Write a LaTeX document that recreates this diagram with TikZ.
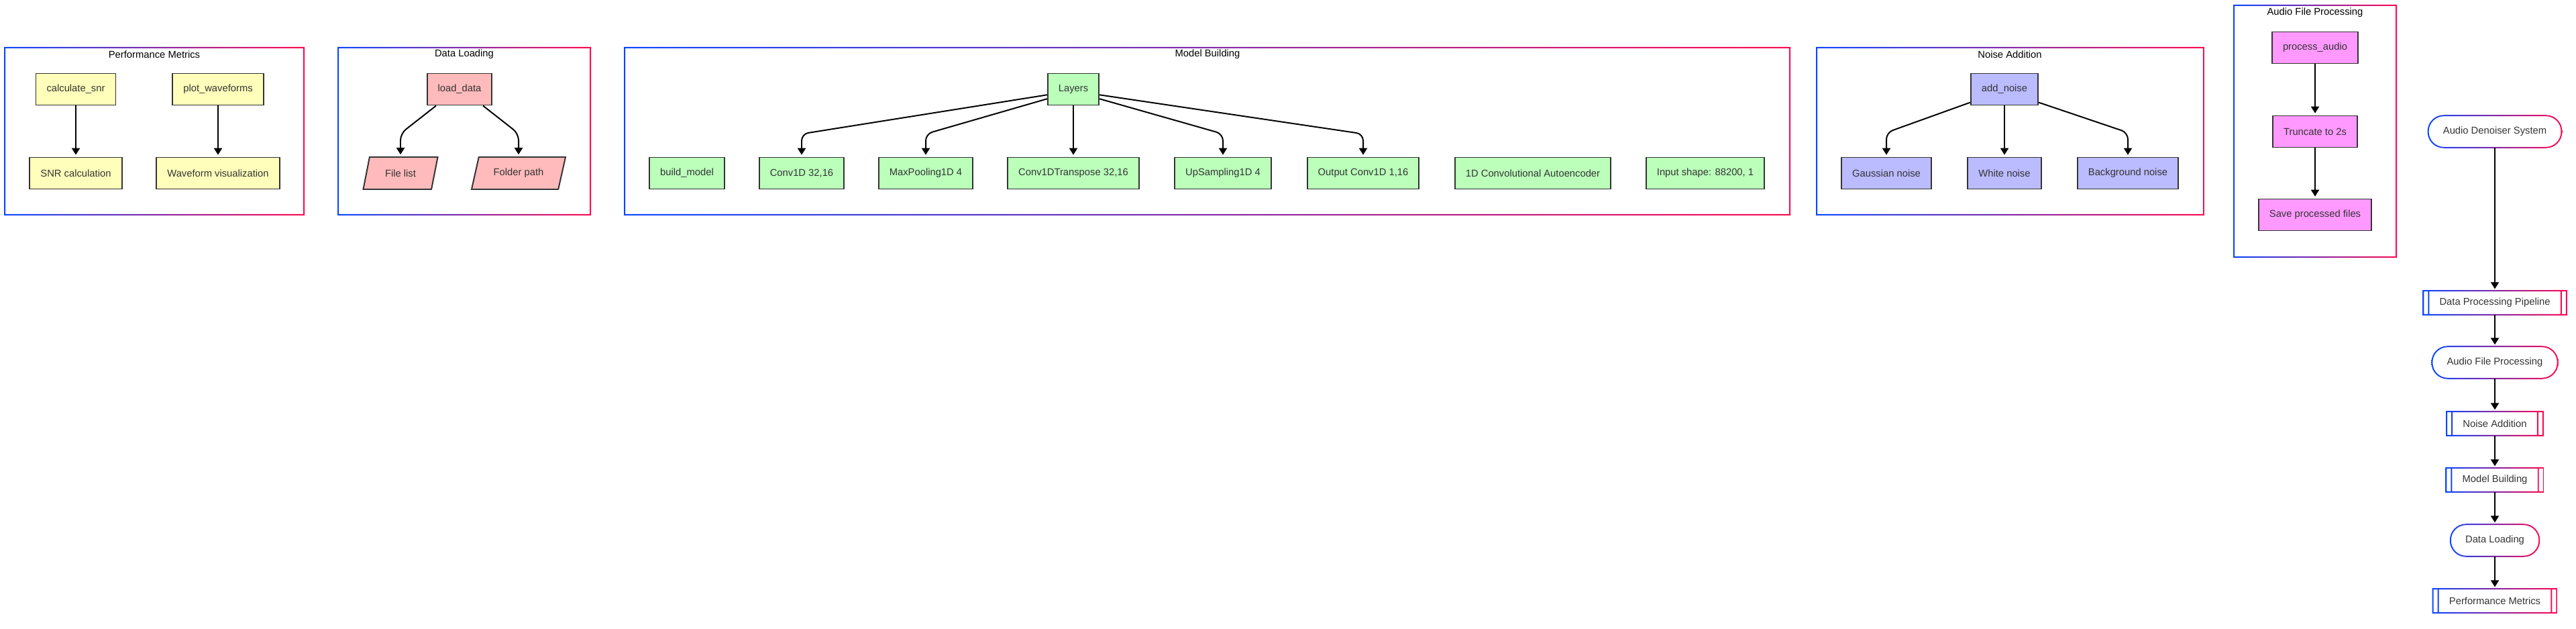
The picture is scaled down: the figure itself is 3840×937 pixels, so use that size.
\documentclass[tikz,border=0pt]{standalone}
\usepackage{fontspec}
\setmainfont{Liberation Sans}
\usetikzlibrary{arrows.meta,shapes.geometric,shadows}

\definecolor{gblue}{HTML}{0A47FF}
\definecolor{gred}{HTML}{FF0A50}
\definecolor{edge}{HTML}{333333}
\definecolor{perf}{HTML}{FFFFBB}
\definecolor{load}{HTML}{FFBBBB}
\definecolor{model}{HTML}{BBFFBB}
\definecolor{noise}{HTML}{BBBBFF}
\definecolor{audio}{HTML}{FF99FF}

\tikzset{
  box/.style={draw=edge, line width=1.4pt, text=edge, minimum height=1.175cm,
    inner xsep=0.4cm, font=\fontsize{10.5}{12}\selectfont,
    drop shadow={shadow xshift=0.5pt, shadow yshift=-0.5pt, opacity=0.06}},
  datain/.style={box, trapezium, trapezium left angle=65, trapezium right angle=115,
    trapezium stretches body, inner xsep=2pt},
  flow/.style={text=edge, minimum height=1.175cm, inner xsep=0.55cm,
    font=\fontsize{10.5}{12}\selectfont},
  sub/.style={flow, minimum height=0.875cm, inner xsep=0.6cm},
  title/.style={font=\fontsize{10.5}{12}\selectfont, text=black},
  arr/.style={-{Triangle[length=0.25cm,width=0.3cm]}, line width=1.4pt,
    rounded corners=0.25cm, shorten >=2pt},
}

% gradient frame of a group, corners in px
\newcommand{\gradframe}[4]{%
  \shade[left color=gblue, right color=gred, even odd rule]
    (#1-1,#2-1) rectangle (#3+1,#4+1) (#1+1,#2+1) rectangle (#3-1,#4-1);}
% gradient outline of a subroutine node
\newcommand{\gradsub}[1]{%
  \shade[left color=gblue, right color=gred, even odd rule]
    ([shift={(-0.7pt,-0.7pt)}]#1.south west) rectangle ([shift={(0.7pt,0.7pt)}]#1.north east)
    ([shift={(0.7pt,0.7pt)}]#1.south west) rectangle ([shift={(-0.7pt,-0.7pt)}]#1.north east)
    ([shift={(5pt,0.7pt)}]#1.south west) rectangle ([shift={(6.4pt,-0.7pt)}]#1.north west)
    ([shift={(-6.4pt,0.7pt)}]#1.south east) rectangle ([shift={(-5pt,-0.7pt)}]#1.north east);}
% gradient outline of a pill node
\newcommand{\gradpill}[1]{%
  \shade[left color=gblue, right color=gred, even odd rule]
    [rounded corners=17.3pt] ([shift={(-0.7pt,-0.7pt)}]#1.south west) rectangle ([shift={(0.7pt,0.7pt)}]#1.north east)
    [rounded corners=15.9pt] ([shift={(0.7pt,0.7pt)}]#1.south west) rectangle ([shift={(-0.7pt,-0.7pt)}]#1.north east);}

\begin{document}
\begin{tikzpicture}[x=0.025cm, y=-0.025cm]
  \useasboundingbox (0,0) rectangle (3840,937);

  % groups
  \gradframe{7}{71}{453}{320}
  \gradframe{504}{71}{880}{320}
  \gradframe{931}{71}{2668}{320}
  \gradframe{2708}{71}{3285}{320}
  \gradframe{3330}{8}{3572}{383}
  \node[title] (tperf) at (230,81) {Performance Metrics};
  \node[title] (tload) at (692,81) {Data Loading};
  \node[title] (tmodel) at (1800,81) {Model Building};
  \node[title] (tnoise) at (2996,81) {Noise Addition};
  \node[title] (taudio) at (3451,19) {Audio File Processing};

  % Performance Metrics
  \node[box, fill=perf] (calc) at (113,133) {calculate\_snr};
  \node[box, fill=perf] (plot) at (325,133) {plot\_waveforms};
  \node[box, fill=perf] (snr) at (113,258) {SNR calculation};
  \node[box, fill=perf] (wave) at (325,258) {Waveform visualization};
  \draw[arr] (calc) -- (snr);
  \draw[arr] (plot) -- (wave);

  % Data Loading
  \node[box, fill=load] (loaddata) at (685,133) {load\_data};
  \node[datain, fill=load, minimum width=2.775cm, minimum height=1.2cm] (files) at (597,258) {File list};
  \node[datain, fill=load, minimum width=3.5cm, minimum height=1.2cm] (folder) at (773,258) {Folder path};
  \draw[arr] (loaddata.215) -- ([yshift=0.85cm]files.north) -- (files.north);
  \draw[arr] (loaddata.325) -- ([yshift=0.85cm]folder.north) -- (folder.north);

  % Model Building
  \node[box, fill=model] (layers) at (1600,133) {Layers};
  \node[box, fill=model] (build) at (1024,258) {build\_model};
  \node[box, fill=model] (conv) at (1195,258) {Conv1D 32,16};
  \node[box, fill=model] (pool) at (1380,258) {MaxPooling1D 4};
  \node[box, fill=model] (convt) at (1600,258) {Conv1DTranspose 32,16};
  \node[box, fill=model] (upsamp) at (1823,258) {UpSampling1D 4};
  \node[box, fill=model] (outconv) at (2032,258) {Output Conv1D 1,16};
  \node[box, fill=model] (autoenc) at (2285,258) {1D Convolutional Autoencoder};
  \node[box, fill=model] (inshape) at (2542,258) {Input shape: 88200, 1};
  \draw[arr] (layers.192) -- ([yshift=0.85cm]conv.north) -- (conv.north);
  \draw[arr] (layers.200) -- ([yshift=0.85cm]pool.north) -- (pool.north);
  \draw[arr] (layers) -- (convt);
  \draw[arr] (layers.340) -- ([yshift=0.85cm]upsamp.north) -- (upsamp.north);
  \draw[arr] (layers.348) -- ([yshift=0.85cm]outconv.north) -- (outconv.north);

  % Noise Addition
  \node[box, fill=noise] (addnoise) at (2988,133) {add\_noise};
  \node[box, fill=noise] (gauss) at (2812,258) {Gaussian noise};
  \node[box, fill=noise] (white) at (2988,258) {White noise};
  \node[box, fill=noise] (backgr) at (3172,258) {Background noise};
  \draw[arr] (addnoise.201) -- ([yshift=0.9cm]gauss.north) -- (gauss.north);
  \draw[arr] (addnoise) -- (white);
  \draw[arr] (addnoise.339) -- ([yshift=0.9cm]backgr.north) -- (backgr.north);

  % Audio File Processing
  \node[box, fill=audio] (process) at (3451,71) {process\_audio};
  \node[box, fill=audio] (trunc) at (3451,196) {Truncate to 2s};
  \node[box, fill=audio] (save) at (3451,320) {Save processed files};
  \draw[arr] (process) -- (trunc);
  \draw[arr] (trunc) -- (save);

  % overview
  \node[flow] (system) at (3719,196) {Audio Denoiser System};
  \node[sub] (pipeline) at (3719,451) {Data Processing Pipeline};
  \node[flow] (audiofp) at (3719,540) {Audio File Processing};
  \node[sub] (noiseadd) at (3719,631) {Noise Addition};
  \node[sub] (modelb) at (3719,715) {Model Building};
  \node[flow] (dataload) at (3719,805) {Data Loading};
  \node[sub] (perfm) at (3719,895) {Performance Metrics};
  \gradpill{system}
  \gradsub{pipeline}
  \gradpill{audiofp}
  \gradsub{noiseadd}
  \gradsub{modelb}
  \gradpill{dataload}
  \gradsub{perfm}
  \draw[arr] (system) -- (pipeline);
  \draw[arr] (pipeline) -- (audiofp);
  \draw[arr] (audiofp) -- (noiseadd);
  \draw[arr] (noiseadd) -- (modelb);
  \draw[arr] (modelb) -- (dataload);
  \draw[arr] (dataload) -- (perfm);
\end{tikzpicture}
\end{document}
